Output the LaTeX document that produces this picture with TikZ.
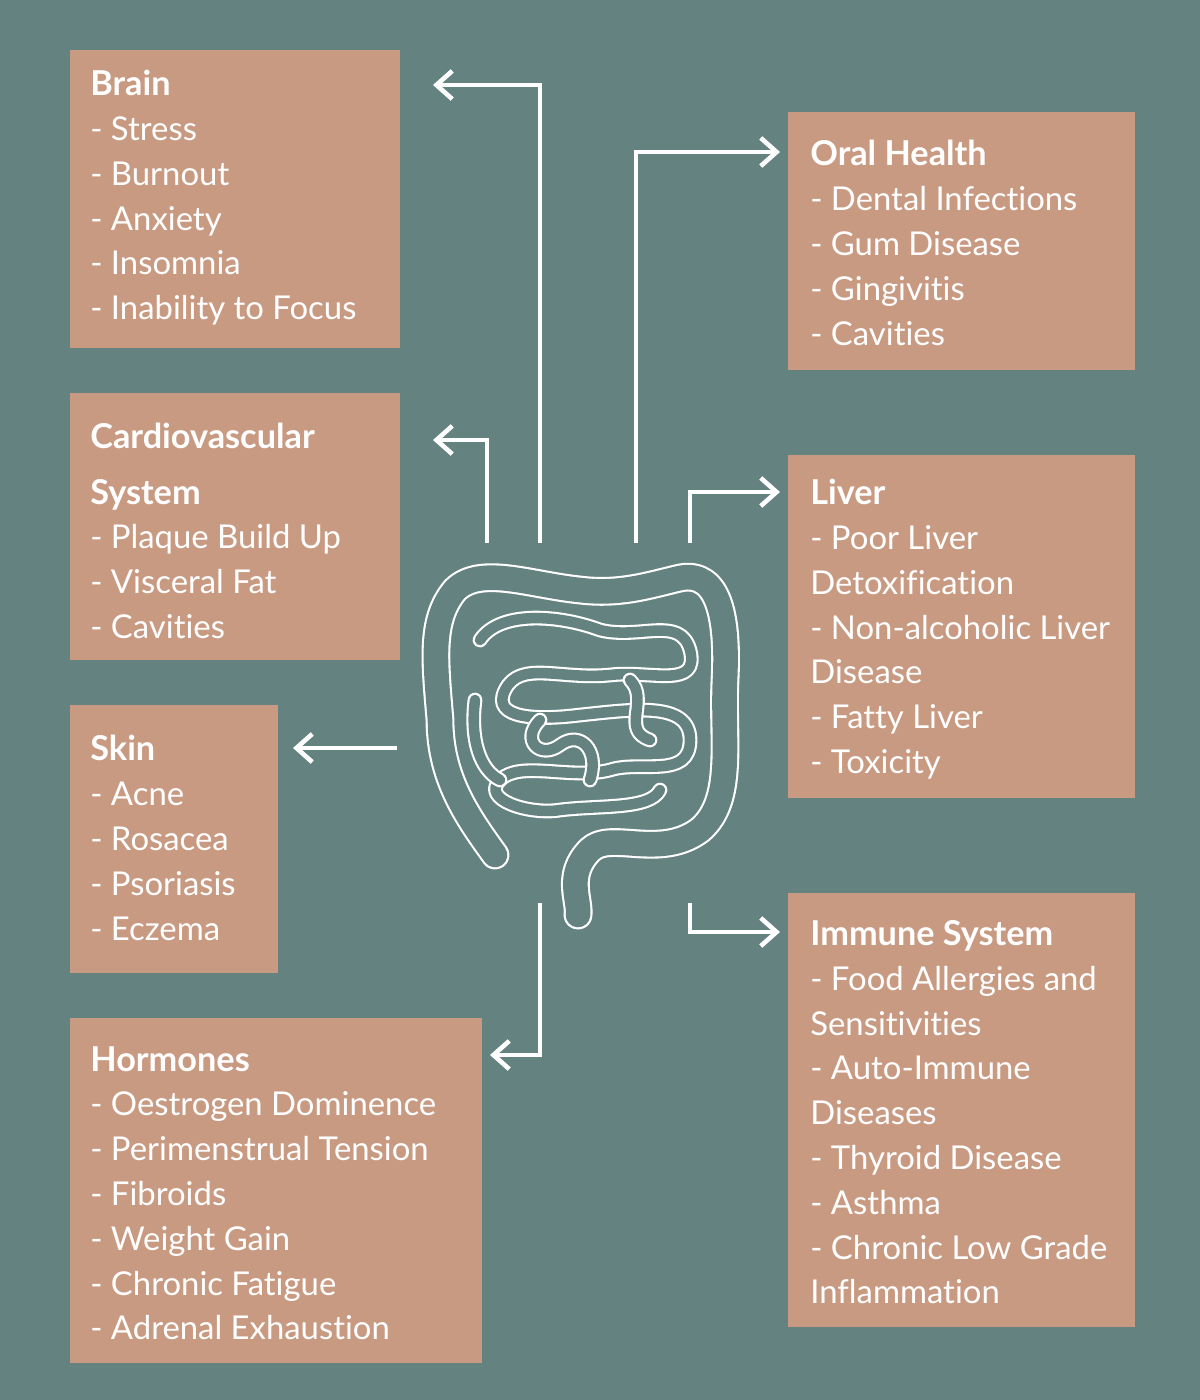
\documentclass[tikz,border=0pt]{standalone}
\usepackage{fontspec}
\setmainfont[Ligatures={NoCommon}]{Lato}
\usetikzlibrary{arrows.meta}
\definecolor{bg}{HTML}{648380}
\definecolor{boxc}{HTML}{C99A82}
\begin{document}
\begin{tikzpicture}[x=0.02cm,y=-0.02cm,
  box/.style={fill=boxc,draw=none,anchor=north west,inner sep=0pt},
  txt/.style={anchor=north west,inner sep=0pt,align=left,text=white,font=\fontsize{18.7}{25.5}\selectfont},
  conn/.style={draw=white,line width=2.6pt,-{Straight Barb[length=9pt,width=16pt,line width=2.6pt]}},
  gut/.style={draw=white,line width=1.2pt,double=bg,double distance=6pt,line cap=round,line join=round},
  gutb/.style={draw=white,line width=1.2pt,double=bg,double distance=14pt,line cap=round,line join=round}]
\fill[bg] (0,0) rectangle (1200,1400);
\useasboundingbox (0,0) rectangle (1200,1400);
% boxes
\node[box,minimum width=6.6cm,minimum height=5.96cm] (bbrain) at (70,50) {};
\node[box,minimum width=6.6cm,minimum height=5.34cm] (bcard) at (70,393) {};
\node[box,minimum width=4.16cm,minimum height=5.36cm] (bskin) at (70,705) {};
\node[box,minimum width=8.24cm,minimum height=6.9cm] (bhorm) at (70,1018) {};
\node[box,minimum width=6.94cm,minimum height=5.16cm] (boral) at (788,112) {};
\node[box,minimum width=6.94cm,minimum height=6.86cm] (bliver) at (788,455) {};
\node[box,minimum width=6.94cm,minimum height=8.68cm] (bimm) at (788,893) {};
% texts
\node[txt] (tbrain) at (90,70) {{\bfseries\fontsize{19.5}{27}\selectfont Brain}\\- Stress\\- Burnout\\- Anxiety\\- Insomnia\\- Inability to Focus};
\node[txt] (tcard) at (90,423) {{\bfseries\fontsize{19.5}{27}\selectfont Cardiovascular}\\[6pt]{\bfseries\fontsize{19.5}{25.5}\selectfont System}\\- Plaque Build Up\\- Visceral Fat\\- Cavities};
\node[txt] (tskin) at (90,735) {{\bfseries\fontsize{19.5}{27}\selectfont Skin}\\- Acne\\- Rosacea\\- Psoriasis\\- Eczema};
\node[txt] (thorm) at (90,1046) {{\bfseries\fontsize{19.5}{27}\selectfont Hormones}\\- Oestrogen Dominence\\- Perimenstrual Tension\\- Fibroids\\- Weight Gain\\- Chronic Fatigue\\- Adrenal Exhaustion};
\node[txt] (toral) at (810,140) {{\bfseries\fontsize{19.5}{27}\selectfont Oral Health}\\- Dental Infections\\- Gum Disease\\- Gingivitis\\- Cavities};
\node[txt] (tliver) at (810,479) {{\bfseries\fontsize{19.5}{27}\selectfont Liver}\\- Poor Liver\\Detoxification\\- Non-alcoholic Liver\\Disease\\- Fatty Liver\\- Toxicity};
\node[txt] (timm) at (810,920) {{\bfseries\fontsize{19.5}{27}\selectfont Immune System}\\- Food Allergies and\\Sensitivities\\- Auto-Immune\\Diseases\\- Thyroid Disease\\- Asthma\\- Chronic Low Grade\\Inflammation};
% arrow endpoints
\coordinate (s1) at (540,543); \coordinate (e1) at (433,85);
\coordinate (s2) at (487,543); \coordinate (e2) at (433,440);
\coordinate (s3) at (397,748); \coordinate (e3) at (293,748);
\coordinate (s4) at (540,903); \coordinate (e4) at (490,1055);
\coordinate (s5) at (636,543); \coordinate (e5) at (780,152);
\coordinate (s6) at (690,543); \coordinate (e6) at (780,492);
\coordinate (s7) at (690,903); \coordinate (e7) at (780,932);
\draw[conn] (s1) |- (e1);
\draw[conn] (s2) |- (e2);
\draw[conn] (s3) -- (e3);
\draw[conn] (s4) |- (e4);
\draw[conn] (s5) |- (e5);
\draw[conn] (s6) |- (e6);
\draw[conn] (s7) |- (e7);
% intestine
\draw[gutb] (495,855) .. controls (470,820) and (440,780) .. (440,720)
  .. controls (435,660) and (430,620) .. (455,590)
  .. controls (480,565) and (530,585) .. (580,590)
  .. controls (620,595) and (650,585) .. (680,578)
  .. controls (720,570) and (728,620) .. (725,680)
  .. controls (722,740) and (735,800) .. (700,830)
  .. controls (660,860) and (610,830) .. (590,850)
  .. controls (565,875) and (580,900) .. (578,915);
\draw[gut] (480,640) .. controls (500,610) and (560,615) .. (600,630)
  .. controls (640,640) and (680,615) .. (690,650)
  .. controls (700,690) and (650,670) .. (610,675)
  .. controls (560,680) and (520,660) .. (505,690)
  .. controls (490,720) and (540,720) .. (580,715)
  .. controls (630,710) and (690,700) .. (690,740)
  .. controls (690,780) and (640,760) .. (610,770)
  .. controls (570,780) and (520,760) .. (500,780)
  .. controls (480,800) and (530,815) .. (560,810)
  .. controls (600,805) and (650,810) .. (660,790);
\draw[gut] (475,700) .. controls (470,740) and (480,770) .. (500,780);
\draw[gut] (540,720) .. controls (520,740) and (540,760) .. (560,745)
  .. controls (580,730) and (600,750) .. (590,780);
\draw[gut] (630,680) .. controls (650,700) and (620,730) .. (650,740);
\end{tikzpicture}
\end{document}
